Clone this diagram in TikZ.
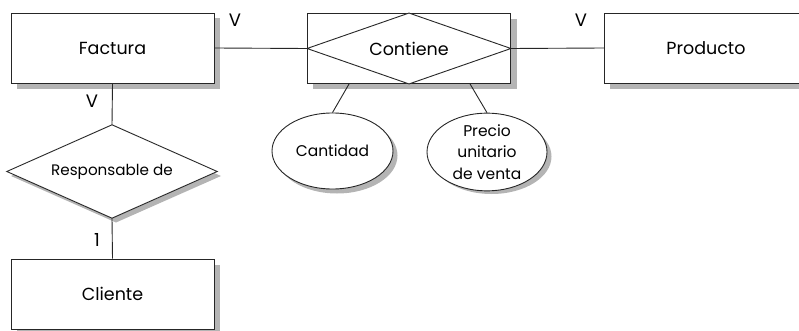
\documentclass[tikz,border=0pt]{standalone}
\usepackage{fontspec}
\setmainfont{Poppins}
\usetikzlibrary{shapes.geometric,calc}
\tikzset{
  shadowc/.style={fill={rgb,255:red,180;green,180;blue,180},draw=none},
  entity/.style={draw=black!85,line width=0.9pt,fill=white,minimum width=203pt,minimum height=70pt,inner sep=0pt,font=\fontsize{17.5}{20}\selectfont},
  relbox/.style={minimum width=210pt,minimum height=93pt,inner sep=0pt,font=\fontsize{15.2}{18}\selectfont},
  rhomb/.style={draw=black!85,line width=0.9pt,fill=white,line join=miter},
  attr/.style={ellipse,draw=black!85,line width=0.9pt,fill=white,inner sep=0pt,align=center,font=\fontsize{15.5}{21.5}\selectfont},
  link/.style={draw=black!85,line width=0.9pt},
  card/.style={font=\fontsize{18}{20}\selectfont,inner sep=0pt}
}
\begin{document}
\begin{tikzpicture}[x=1pt,y=-1pt]
\useasboundingbox (0,0) rectangle (799,331);
% shadows
\fill[shadowc] (16.5,18.5) rectangle (220,89);
\fill[shadowc] (313,19) rectangle (516.5,89.5);
\fill[shadowc] (610,18.5) rectangle (813,89);
\fill[shadowc] (16.5,264.5) rectangle (220,334.5);
\fill[shadowc] (11,176) -- (116,129.5) -- (221,176) -- (116,222.5) -- cycle;
\fill[shadowc] (337,155.5) ellipse [x radius=60.5pt,y radius=38pt];
\fill[shadowc] (491.5,156.5) ellipse [x radius=60pt,y radius=37.5pt];
% shapes
\node[entity] (factura) at (112.5,48) {Factura};
\node[entity] (cbox) at (409,48.5) {};
\node[entity] (producto) at (706,48) {Producto};
\node[relbox] (resp) at (112,171.5) {};
\draw[rhomb] (resp.west) -- (resp.north) -- (resp.east) -- (resp.south) -- cycle;
\node[relbox] (resplabel) at (resp.center) {Responsable de};
\node[entity] (cliente) at (112.5,294) {Cliente};
\node[attr,minimum width=121pt,minimum height=76pt] (cantidad) at (332.5,151) {Cantidad};
\node[attr,minimum width=120pt,minimum height=75pt] (precio) at (487,152) {Precio\\unitario\\de venta};
\draw[rhomb] (cbox.west) -- (cbox.north) -- (cbox.east) -- (cbox.south) -- cycle;
\node[font=\fontsize{17.5}{20}\selectfont,inner sep=0pt] (contiene) at (cbox.center) {Contiene};
% connectors
\coordinate (c1) at ($(cbox.south west)+(42,0)$);
\coordinate (c2) at ($(cbox.south west)+(163,0)$);
\draw[link] (factura.east) -- (cbox.west);
\draw[link] (cbox.east) -- (producto.west);
\draw[link] (factura.south) -- (resp.north);
\draw[link] (resp.south) -- (cliente.north);
\draw[link] (c1) -- (cantidad.north);
\draw[link] (c2) -- (precio.north);
% cardinalities
\node[card] (v1) at (235,20) {V};
\node[card] (v2) at (92,101) {V};
\node[card] (v3) at (581,20) {V};
\node[card] (one) at (97,240) {1};
\end{tikzpicture}
\end{document}
